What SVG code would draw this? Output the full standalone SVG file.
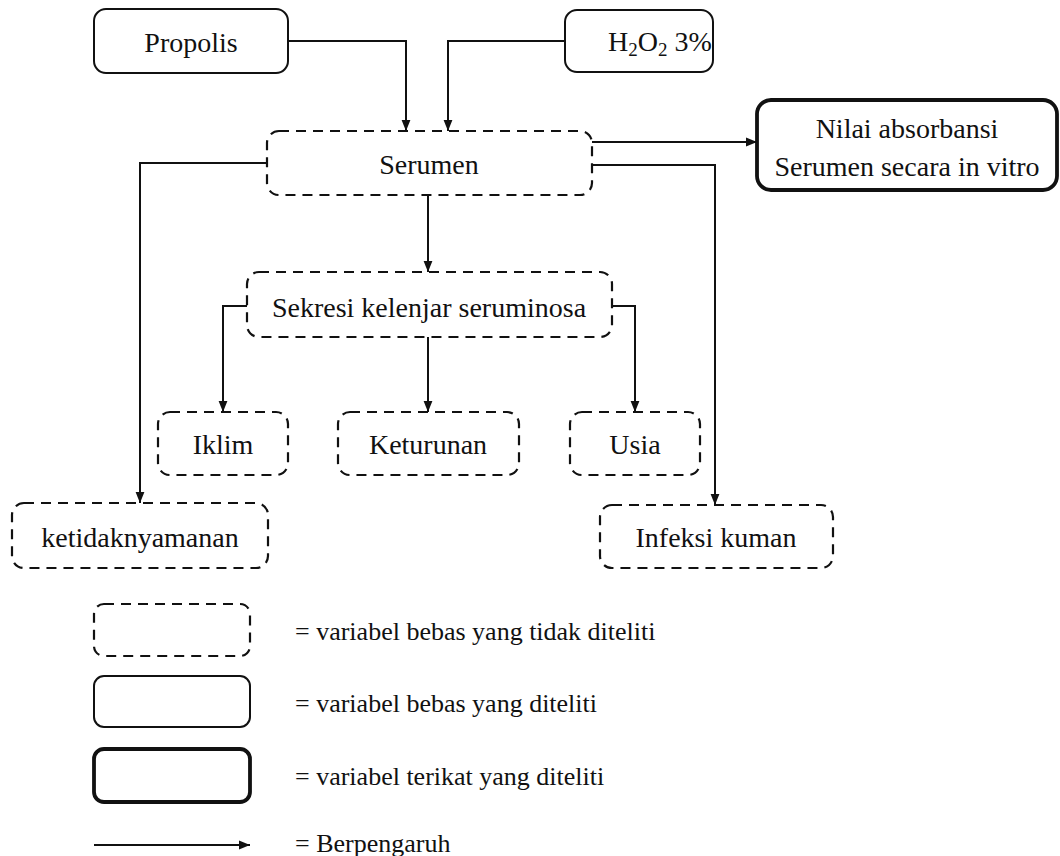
<svg xmlns="http://www.w3.org/2000/svg" width="1060" height="856" viewBox="0 0 1060 856">
<defs>
<style>
.t{font-family:"Liberation Serif","Times New Roman",serif;font-size:28px;fill:#111;text-anchor:middle;dominant-baseline:central}
.tb{font-family:"Liberation Serif","Times New Roman",serif;font-size:28px;fill:#111}
.lg{font-family:"Liberation Serif","Times New Roman",serif;font-size:26px;fill:#111;dominant-baseline:central}
.dash{fill:#fff;stroke:#111;stroke-width:2.2;stroke-dasharray:10 7}
.solid{fill:#fff;stroke:#111;stroke-width:2}
.thick{fill:#fff;stroke:#111;stroke-width:3.8}
.c{fill:none;stroke:#111;stroke-width:2;marker-end:url(#ah)}
</style>
<marker id="ah" viewBox="0 0 10 10" refX="10" refY="5" markerWidth="11" markerHeight="11" markerUnits="userSpaceOnUse" orient="auto">
<path d="M0,1 L10,5 L0,9 Z" fill="#111"/>
</marker>
</defs>
<rect width="1060" height="856" fill="#fff"/>
<g id="connectors">
<path class="c" d="M288,41 H406 V131"/>
<path class="c" d="M565,41 H448 V131"/>
<path class="c" d="M267,163 H140 V503"/>
<path class="c" d="M592,142 H757"/>
<path class="c" d="M592,165 H715 V505"/>
<path class="c" d="M428,195 V272"/>
<path class="c" d="M247,306 H223 V412"/>
<path class="c" d="M428,337 V412"/>
<path class="c" d="M612,306 H635 V412"/>
</g>
<g id="propolis">
<rect class="solid" x="94" y="9" width="194" height="64" rx="12"/>
<text class="t" x="191" y="42">Propolis</text>
</g>
<g id="h2o2">
<rect class="solid" x="565" y="10" width="148" height="62" rx="12"/>
<text class="tb" x="608" y="51">H<tspan font-size="19" dy="5">2</tspan><tspan dy="-5">O</tspan><tspan font-size="19" dy="5">2</tspan><tspan dy="-5"> 3%</tspan></text>
</g>
<g id="serumen">
<rect class="dash" x="267" y="131" width="325" height="64" rx="12"/>
<text class="t" x="429" y="164">Serumen</text>
</g>
<g id="nilai">
<rect class="thick" x="757" y="100" width="300" height="90" rx="14"/>
<text class="t" x="907" y="128">Nilai absorbansi</text>
<text class="t" x="907" y="166">Serumen secara in vitro</text>
</g>
<g id="sekresi">
<rect class="dash" x="247" y="272" width="365" height="65" rx="12"/>
<text class="t" x="429" y="307">Sekresi kelenjar seruminosa</text>
</g>
<g id="iklim">
<rect class="dash" x="158" y="412" width="130" height="63" rx="12"/>
<text class="t" x="223" y="444">Iklim</text>
</g>
<g id="keturunan">
<rect class="dash" x="338" y="412" width="181" height="63" rx="12"/>
<text class="t" x="428" y="444">Keturunan</text>
</g>
<g id="usia">
<rect class="dash" x="570" y="412" width="130" height="63" rx="12"/>
<text class="t" x="635" y="444">Usia</text>
</g>
<g id="ketidaknyamanan">
<rect class="dash" x="12" y="503" width="256" height="65" rx="12"/>
<text class="t" x="140" y="537">ketidaknyamanan</text>
</g>
<g id="infeksi">
<rect class="dash" x="600" y="505" width="233" height="63" rx="12"/>
<text class="t" x="716" y="537">Infeksi kuman</text>
</g>
<g id="legend">
<rect class="dash" x="94" y="604" width="156" height="52" rx="10"/>
<text class="lg" x="295" y="631">= variabel bebas yang tidak diteliti</text>
<rect class="solid" x="94" y="676" width="156" height="51" rx="10"/>
<text class="lg" x="295" y="703">= variabel bebas yang diteliti</text>
<rect class="thick" x="94" y="749" width="156" height="53" rx="10"/>
<text class="lg" x="295" y="776">= variabel terikat yang diteliti</text>
<path class="c" d="M94,845 H250"/>
<text class="lg" x="295" y="843">= Berpengaruh</text>
</g>
</svg>
